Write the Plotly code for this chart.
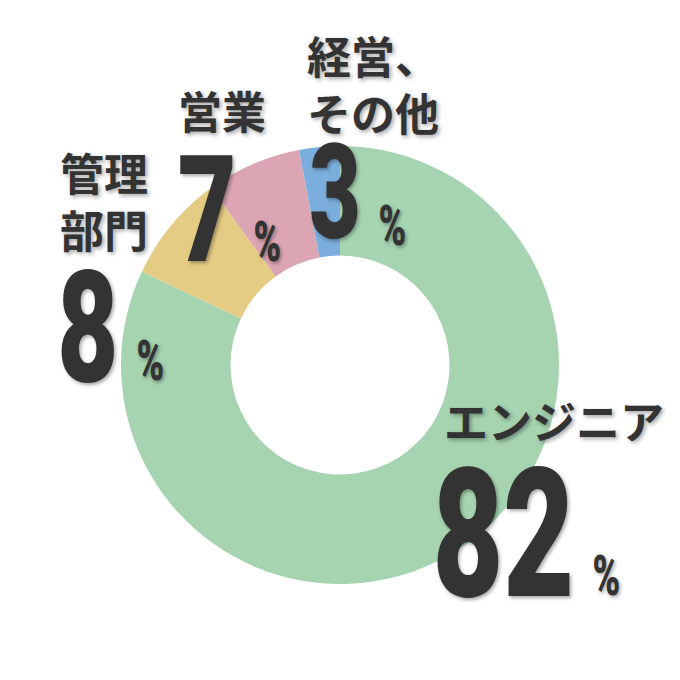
import plotly.graph_objects as go

# Share of employees by job type
labels = ['エンジニア', '管理部門', '営業', '経営、その他']
label_lines = ['エンジニア', '管理<br>部門', '営業', '経営、<br>その他']
values = [82, 8, 7, 3]
colors = ['#a6d4b1', '#e4cc85', '#dca5b3', '#7baedc']

W = 680
num_font = 'Roboto'
jp_font = 'Noto Sans CJK JP'
shadow = '2px 2px 4px rgba(0,0,0,0.35)'

fig = go.Figure(go.Pie(
    labels=labels,
    values=values,
    marker=dict(colors=colors, line=dict(width=0)),
    hole=0.5,
    sort=False,
    direction='clockwise',
    rotation=0,
    textinfo='none',
    hoverinfo='label+percent',
    domain=dict(x=[121 / W, 559 / W], y=[1 - 584 / W, 1 - 146 / W]),
))

# label positions (px): name x, name y, number x, number y, number size, percent x, percent y
pos = [
    (554, 420, 503, 534, 180, 606, 576),
    (104, 200, 88, 328, 155, 150, 361),
    (222, 110, 207, 210, 149, 267, 242),
    (373, 83, 335, 193, 131, 393, 226),
]


def note(x, y, text, family, size, weight, align='center'):
    fig.add_annotation(x=x / W, y=1 - y / W, xref='paper', yref='paper',
                       xanchor='center', yanchor='middle',
                       text=text, showarrow=False, align=align,
                       font=dict(family=family, size=size, color='#333333',
                                 weight=weight, shadow=shadow))


for (nx, ny, vx, vy, size, px, py), line, v in zip(pos, label_lines, values):
    note(nx, ny, line, jp_font, 44, 'bold', align='left')
    note(vx, vy, str(v), num_font, size, 900)
    note(px, py, '%', num_font, 55, 900)

fig.update_layout(
    width=W, height=W,
    margin=dict(l=0, r=0, t=0, b=0),
    showlegend=False,
    paper_bgcolor='white',
    plot_bgcolor='white',
)

# no page margin; squeeze the numbers horizontally like a condensed display face
squeeze = """
document.body.style.margin = '0';
document.querySelectorAll('.annotation-text').forEach(function (t) {
    if (/^[0-9%]+$/.test(t.textContent)) {
        t.style.transformBox = 'fill-box';
        t.style.transformOrigin = 'center';
        t.style.transform = 'scaleX(0.68)';
    }
});
"""

fig.write_html('out.html', post_script=squeeze, config={'displayModeBar': False})
